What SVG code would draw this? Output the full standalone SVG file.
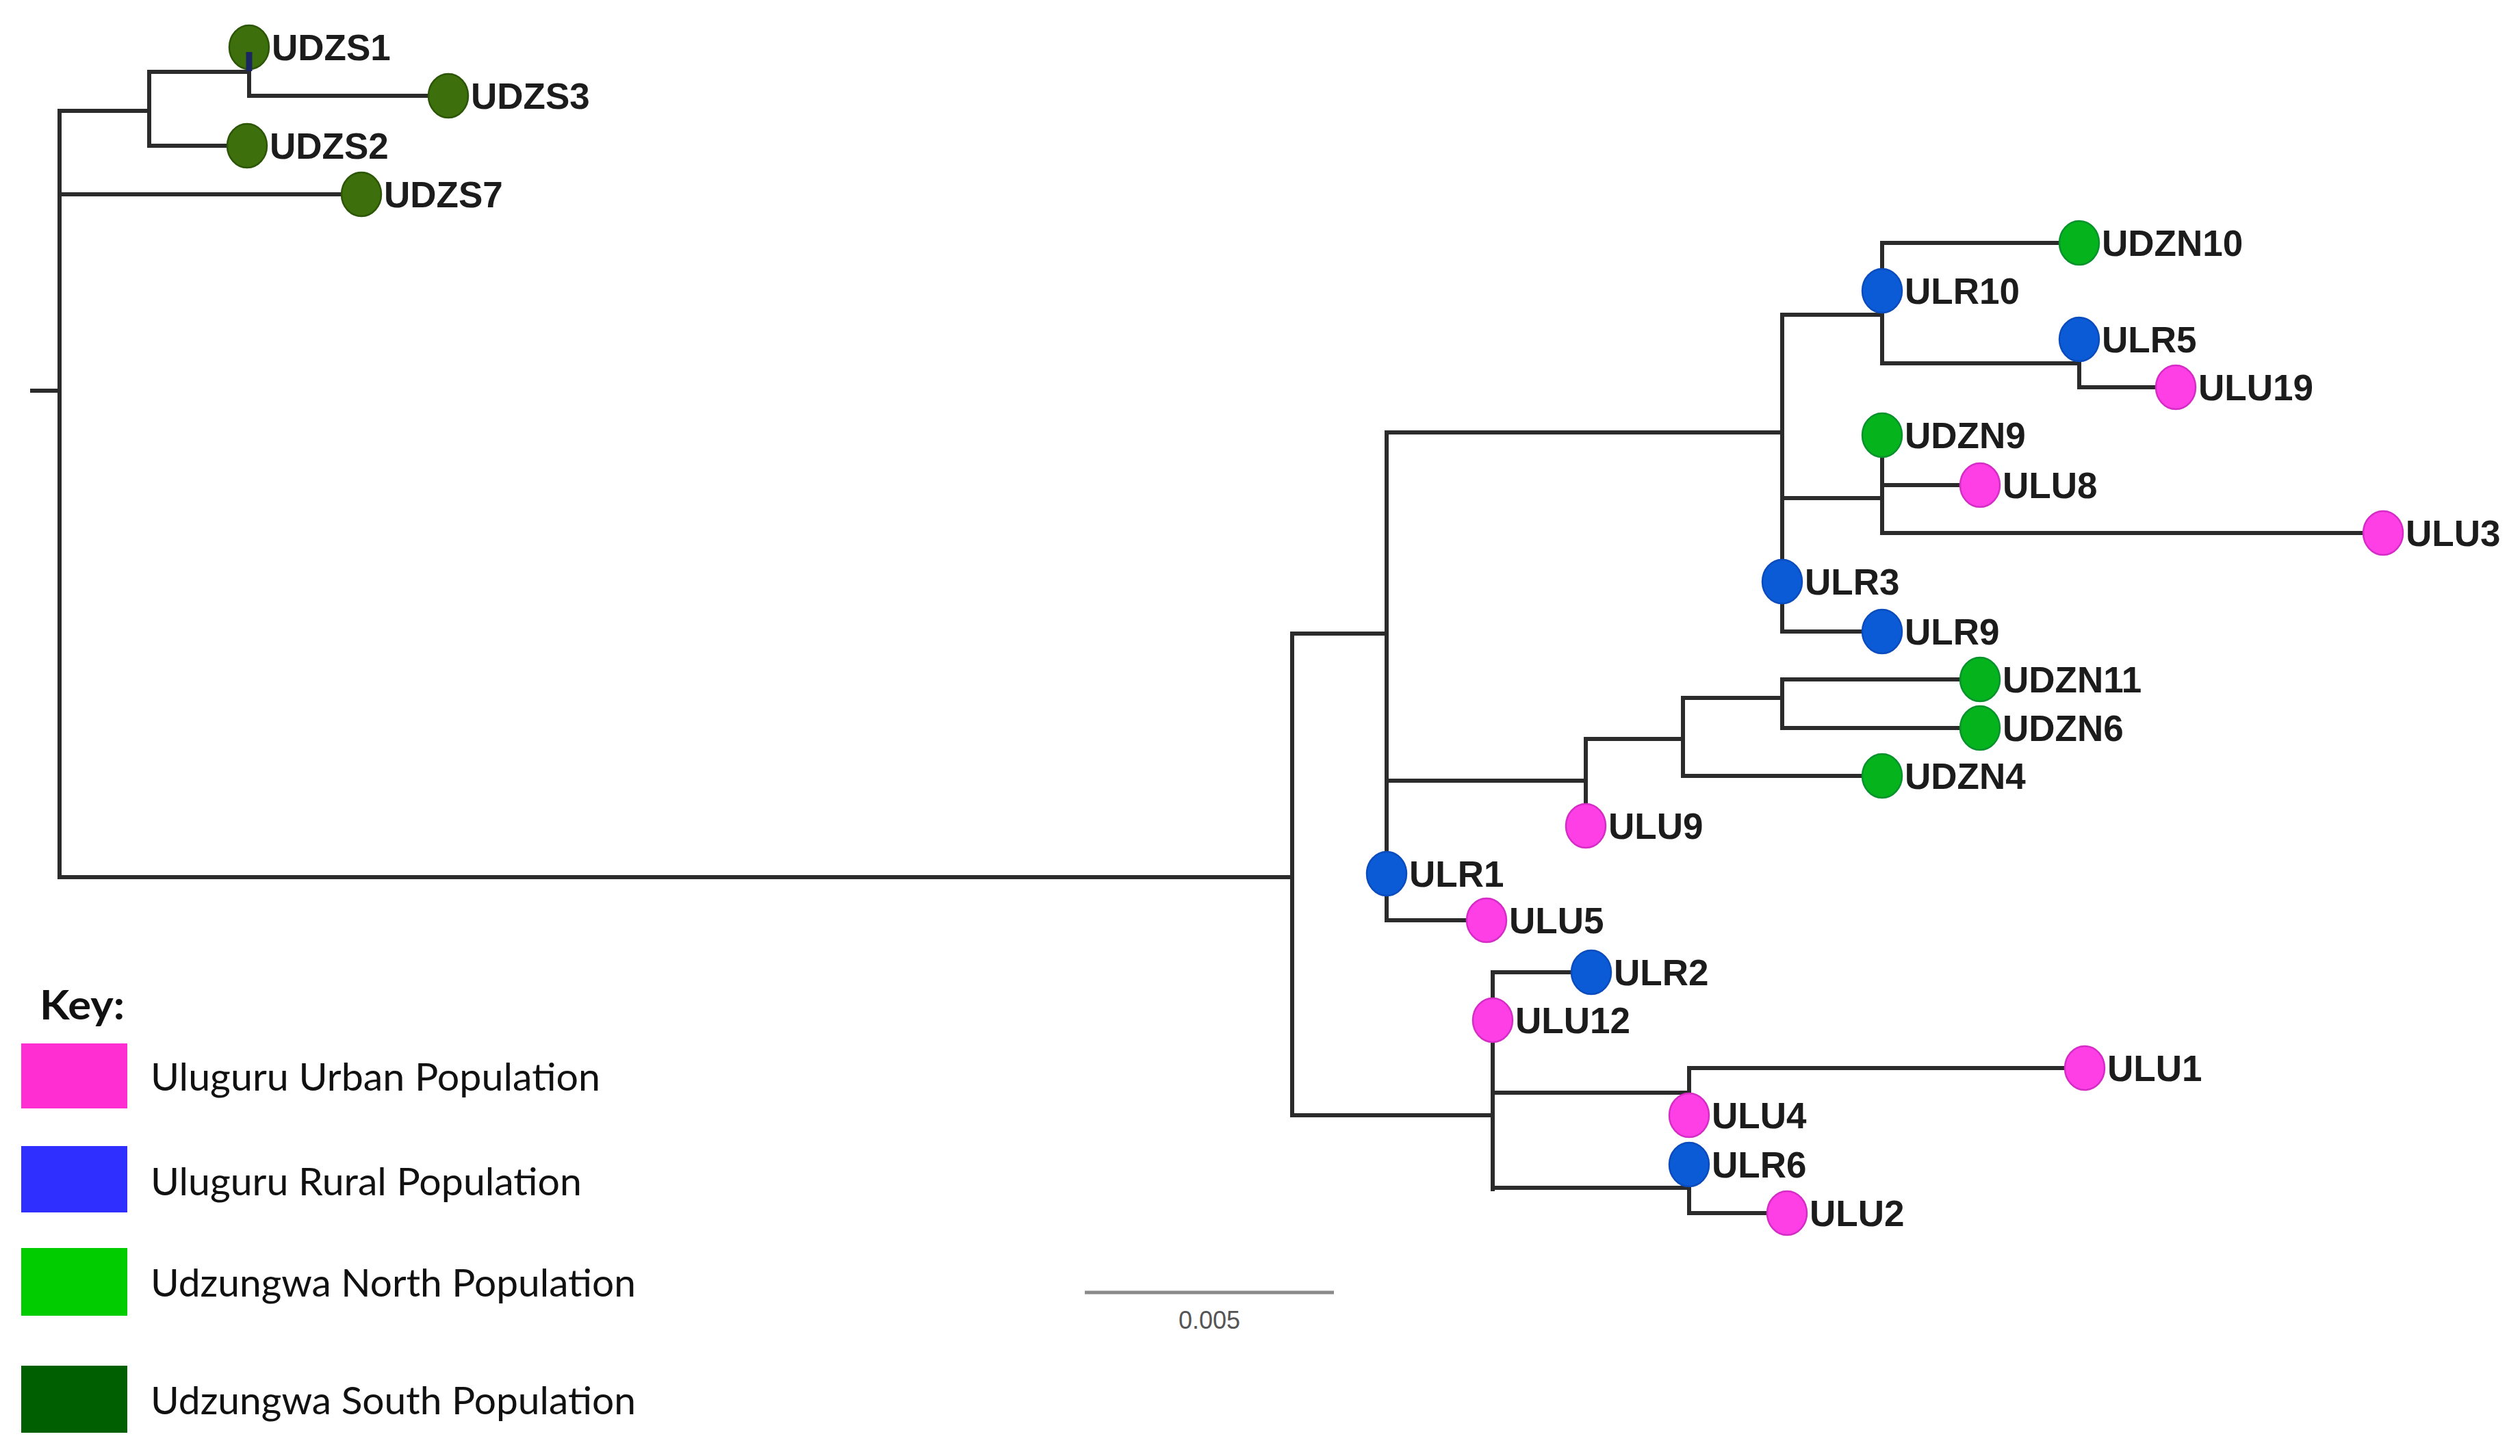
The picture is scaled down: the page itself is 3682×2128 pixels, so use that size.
<svg xmlns="http://www.w3.org/2000/svg" width="3682" height="2128" viewBox="0 0 3682 2128">
<style>
.br{fill:none;stroke:#2b2b2b;stroke-width:6;stroke-linecap:square}
.nd{stroke-width:2.5}
.s{fill:#3d6f0d;stroke:#2c5606}
.n{fill:#05b41c;stroke:#07922c}
.r{fill:#0b5bd7;stroke:#0a4cbd}
.u{fill:#ff3fe6;stroke:#d52cc6}
.lb{font-family:"Liberation Sans",Arial,sans-serif;font-size:53px;font-weight:bold;fill:#1c1c1c}
.lg{font-family:Lato,"Open Sans",sans-serif;font-size:57px;fill:#111}
</style>
<rect width="3682" height="2128" fill="#fff"/>
<g id="connectors" class="br">
<path d="M47 571H87M87 162V1282M87 162H218M218 105V213M218 105H364M364 69V140H655M218 213H361M87 284H528M87 1282H1888"/>
<path d="M1888 926V1630M1888 926H2026M2026 632V1345H2172M2026 632H2604M2604 460V923H2750M2604 460H2750M2750 355V531M2750 355H3038M2750 531H3038M3038 496V566H3179M2604 728H2750M2750 636V779M2750 709H2893M2750 779H3482"/>
<path d="M2026 1141H2317M2317 1080V1207M2317 1080H2459M2459 1020V1134M2459 1020H2604M2604 993V1064M2604 993H2893M2604 1064H2893M2459 1134H2750"/>
<path d="M1888 1630H2181M2181 1421V1738M2181 1421H2325M2181 1597H2468M2468 1561V1630M2468 1561H3046M2181 1736H2468M2468 1702V1773H2611"/>
</g>
<g id="UDZS1"><ellipse class="nd s" cx="364" cy="69" rx="29" ry="32"/><path d="M364 76V104" stroke="#1b2660" stroke-width="9"/><text class="lb" x="397" y="88">UDZS1</text></g>
<g id="UDZS3"><ellipse class="nd s" cx="655" cy="140" rx="29" ry="32"/><text class="lb" x="688" y="159">UDZS3</text></g>
<g id="UDZS2"><ellipse class="nd s" cx="361" cy="213" rx="29" ry="32"/><text class="lb" x="394" y="232">UDZS2</text></g>
<g id="UDZS7"><ellipse class="nd s" cx="528" cy="284" rx="29" ry="32"/><text class="lb" x="561" y="303">UDZS7</text></g>
<g id="UDZN10"><ellipse class="nd n" cx="3038" cy="355" rx="29" ry="32"/><text class="lb" x="3071" y="374">UDZN10</text></g>
<g id="ULR10"><ellipse class="nd r" cx="2750" cy="425" rx="29" ry="32"/><text class="lb" x="2783" y="444">ULR10</text></g>
<g id="ULR5"><ellipse class="nd r" cx="3038" cy="496" rx="29" ry="32"/><text class="lb" x="3071" y="515">ULR5</text></g>
<g id="ULU19"><ellipse class="nd u" cx="3179" cy="566" rx="29" ry="32"/><text class="lb" x="3212" y="585">ULU19</text></g>
<g id="UDZN9"><ellipse class="nd n" cx="2750" cy="636" rx="29" ry="32"/><text class="lb" x="2783" y="655">UDZN9</text></g>
<g id="ULU8"><ellipse class="nd u" cx="2893" cy="709" rx="29" ry="32"/><text class="lb" x="2926" y="728">ULU8</text></g>
<g id="ULU3"><ellipse class="nd u" cx="3482" cy="779" rx="29" ry="32"/><text class="lb" x="3515" y="798">ULU3</text></g>
<g id="ULR3"><ellipse class="nd r" cx="2604" cy="850" rx="29" ry="32"/><text class="lb" x="2637" y="869">ULR3</text></g>
<g id="ULR9"><ellipse class="nd r" cx="2750" cy="923" rx="29" ry="32"/><text class="lb" x="2783" y="942">ULR9</text></g>
<g id="UDZN11"><ellipse class="nd n" cx="2893" cy="993" rx="29" ry="32"/><text class="lb" x="2926" y="1012">UDZN11</text></g>
<g id="UDZN6"><ellipse class="nd n" cx="2893" cy="1064" rx="29" ry="32"/><text class="lb" x="2926" y="1083">UDZN6</text></g>
<g id="UDZN4"><ellipse class="nd n" cx="2750" cy="1134" rx="29" ry="32"/><text class="lb" x="2783" y="1153">UDZN4</text></g>
<g id="ULU9"><ellipse class="nd u" cx="2317" cy="1207" rx="29" ry="32"/><text class="lb" x="2350" y="1226">ULU9</text></g>
<g id="ULR1"><ellipse class="nd r" cx="2026" cy="1277" rx="29" ry="32"/><text class="lb" x="2059" y="1296">ULR1</text></g>
<g id="ULU5"><ellipse class="nd u" cx="2172" cy="1345" rx="29" ry="32"/><text class="lb" x="2205" y="1364">ULU5</text></g>
<g id="ULR2"><ellipse class="nd r" cx="2325" cy="1421" rx="29" ry="32"/><text class="lb" x="2358" y="1440">ULR2</text></g>
<g id="ULU12"><ellipse class="nd u" cx="2181" cy="1491" rx="29" ry="32"/><text class="lb" x="2214" y="1510">ULU12</text></g>
<g id="ULU1"><ellipse class="nd u" cx="3046" cy="1561" rx="29" ry="32"/><text class="lb" x="3079" y="1580">ULU1</text></g>
<g id="ULU4"><ellipse class="nd u" cx="2468" cy="1630" rx="29" ry="32"/><text class="lb" x="2501" y="1649">ULU4</text></g>
<g id="ULR6"><ellipse class="nd r" cx="2468" cy="1702" rx="29" ry="32"/><text class="lb" x="2501" y="1721">ULR6</text></g>
<g id="ULU2"><ellipse class="nd u" cx="2611" cy="1773" rx="29" ry="32"/><text class="lb" x="2644" y="1792">ULU2</text></g>
<g id="scale-bar">
<path d="M1585 1889H1949" stroke="#8a8a8a" stroke-width="5"/>
<text x="1767" y="1942" text-anchor="middle" font-family="Liberation Sans,Arial,sans-serif" font-size="36" fill="#555">0.005</text>
</g>
<g id="legend">
<text x="58" y="1490" font-family="Lato,'Open Sans',sans-serif" font-size="60" font-weight="bold" fill="#111" textLength="124" lengthAdjust="spacingAndGlyphs">Key:</text>
<rect x="31" y="1525" width="155" height="95" fill="#ff2ed2"/>
<text class="lg" x="220" y="1594" textLength="657" lengthAdjust="spacingAndGlyphs">Uluguru Urban Population</text>
<rect x="31" y="1675" width="155" height="97" fill="#2f2fff"/>
<text class="lg" x="220" y="1747" textLength="630" lengthAdjust="spacingAndGlyphs">Uluguru Rural Population</text>
<rect x="31" y="1824" width="155" height="99" fill="#00cc00"/>
<text class="lg" x="220" y="1895" textLength="709" lengthAdjust="spacingAndGlyphs">Udzungwa North Population</text>
<rect x="31" y="1996" width="155" height="98" fill="#005f00"/>
<text class="lg" x="220" y="2067" textLength="709" lengthAdjust="spacingAndGlyphs">Udzungwa South Population</text>
</g>
</svg>
